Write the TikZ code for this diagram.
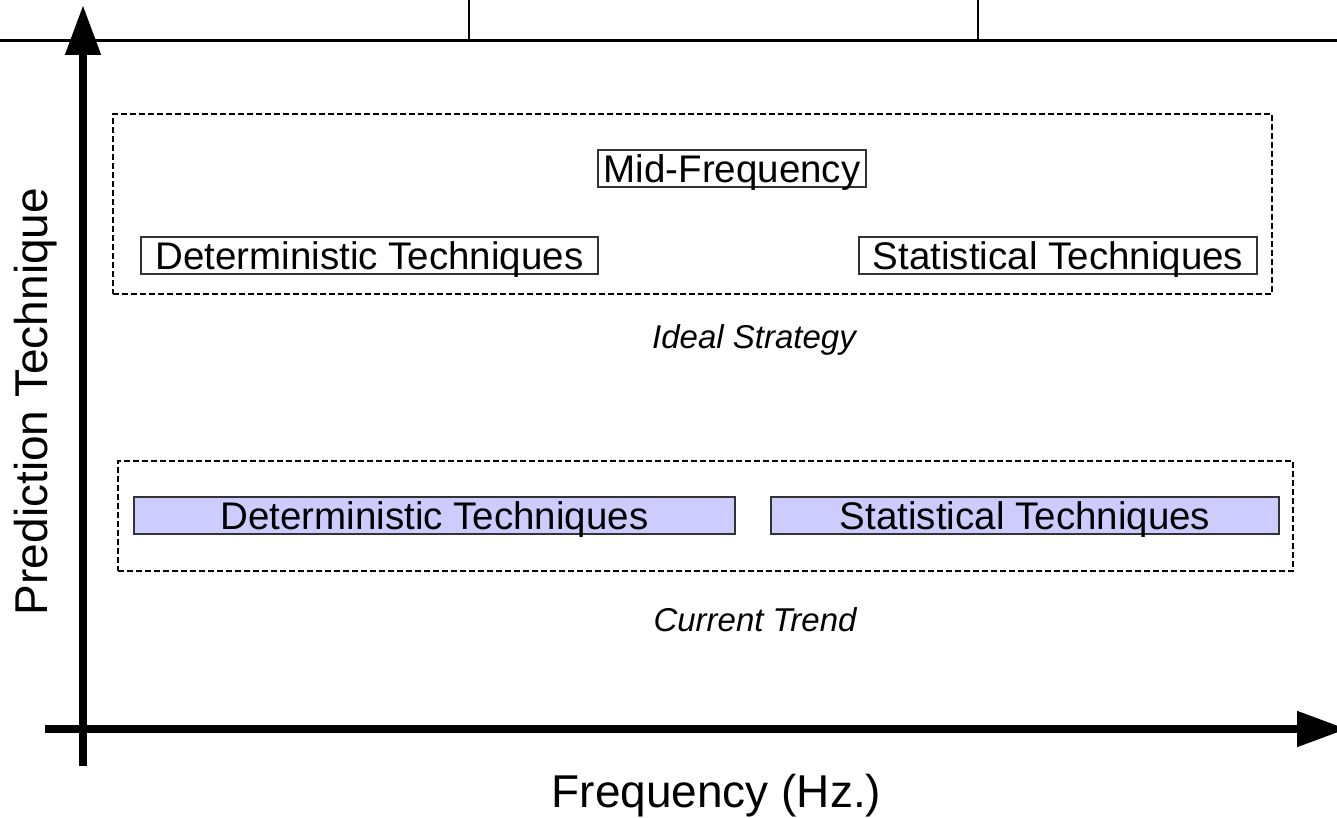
\documentclass[tikz,border=0pt]{standalone}
\usepackage{fontspec}
\setmainfont{Liberation Sans}
\usetikzlibrary{arrows.meta}
\definecolor{lav}{HTML}{CCCCFF}
\definecolor{bord}{HTML}{333333}
\begin{document}
\begin{tikzpicture}[x=1pt,y=-1pt,
  dashbox/.style={draw=black, line width=1.3pt, dash pattern=on 6pt off 3pt, inner sep=0pt},
  techbox/.style={draw=bord, line width=1.6pt, inner sep=0pt, minimum height=37pt,
    font=\fontsize{38.5}{41}\selectfont, text height=27.5pt, text depth=0pt},
  filledbox/.style={techbox, fill=lav},
  caption/.style={font=\fontsize{33}{36}\selectfont\itshape, anchor=base, inner sep=0pt},
  axislabel/.style={font=\fontsize{46}{50}\selectfont, anchor=base, inner sep=0pt},
  axis/.style={line width=8pt, -{Triangle[length=50pt,width=34pt]}}
]
\useasboundingbox (0,0) rectangle (1337,818);
% table remnant at top
\coordinate (tl) at (0,41);
\coordinate (tr) at (1337,41);
\coordinate (v1t) at (469,0);
\coordinate (v1b) at (469,41);
\coordinate (v2t) at (978,0);
\coordinate (v2b) at (978,41);
\draw[line width=3pt] (tl) -- (tr);
\draw[line width=1.6pt] (v1t) -- (v1b);
\draw[line width=1.6pt] (v2t) -- (v2b);
% ideal strategy group
\node[dashbox, minimum width=1159pt, minimum height=180pt] (ideal) at (692.5,204) {};
\node[techbox, minimum width=268pt] (mid) at (732,168.5) {Mid-Frequency};
\node[techbox, minimum width=457pt] (detI) at (369.5,255.5) {Deterministic Techniques};
\node[techbox, minimum width=398pt] (statI) at (1058,255.5) {Statistical Techniques};
\node[caption] (idealcap) at (754,348) {Ideal Strategy};
% current trend group
\node[dashbox, minimum width=1175pt, minimum height=110pt] (current) at (705.5,516) {};
\node[filledbox, minimum width=601pt] (detC) at (434.5,515.5) {Deterministic Techniques};
\node[filledbox, minimum width=508pt] (statC) at (1025,515.5) {Statistical Techniques};
\node[caption] (curcap) at (755,631) {Current Trend};
% axes
\coordinate (yb) at (83,766);
\coordinate (yt) at (83,5);
\coordinate (xl) at (45,729);
\coordinate (xr) at (1347,729);
\draw[axis] (yb) -- (yt);
\draw[axis] (xl) -- (xr);
\node[axislabel] (xlab) at (716.5,807) {Frequency (Hz.)};
\node[axislabel, rotate=90] (ylab) at (47,401.5) {Prediction Technique};
\end{tikzpicture}
\end{document}
